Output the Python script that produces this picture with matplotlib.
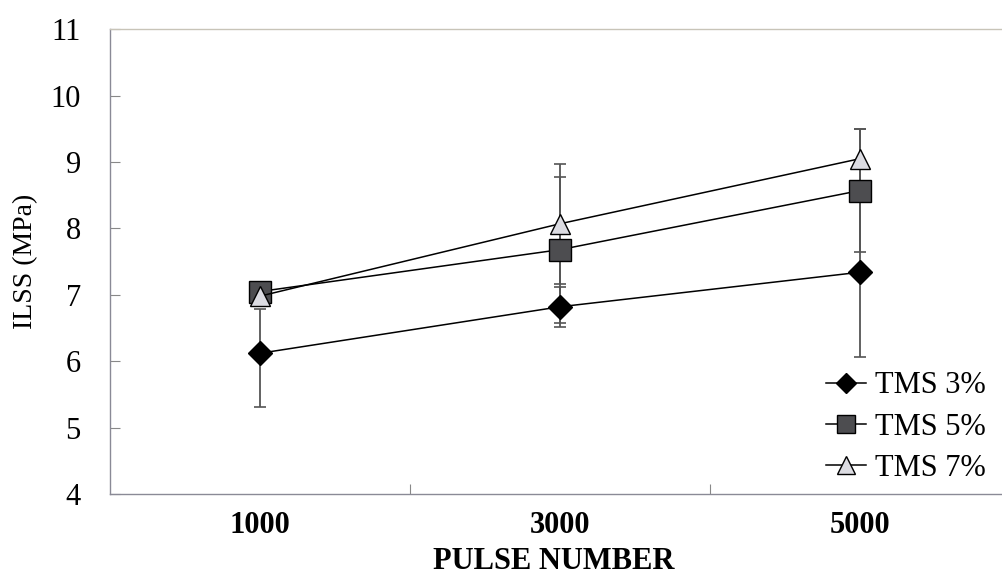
import matplotlib.pyplot as plt

pulses = ['1000', '3000', '5000']
tms3 = [6.12, 6.82, 7.34]
tms3_err_lo = [0.81, 0.30, 1.28]
tms3_err_hi = [0.66, 0.30, 1.28]
tms5 = [7.05, 7.68, 8.57]
tms5_err = [0.15, 1.10, 0.93]
tms7 = [6.98, 8.07, 9.05]
tms7_err = [0.15, 0.90, 0.45]
labels = ['TMS 3%', 'TMS 5%', 'TMS 7%']

plt.rcParams['font.family'] = ['Liberation Serif', 'DejaVu Serif']

fig = plt.figure(figsize=(10.02, 5.81), dpi=100)
ax = fig.add_axes([0.1098, 0.1497, 0.898, 0.800])

x = list(range(len(pulses)))

# error bars first so the markers sit on top
for vals, errs in [(tms3, [tms3_err_lo, tms3_err_hi]), (tms5, tms5_err), (tms7, tms7_err)]:
    ax.errorbar(x, vals, yerr=errs, fmt='none', ecolor='#555555',
                elinewidth=1.3, capsize=4, capthick=1.2, zorder=1)

ax.plot(x, tms3, color='k', lw=1.1, marker='D', ms=12,
        mfc='black', mec='black', label=labels[0], zorder=3)
ax.plot(x, tms5, color='k', lw=1.1, marker='s', ms=16,
        mfc='#4d4d50', mec='black', mew=1.0, label=labels[1], zorder=3)
ax.plot(x, tms7, color='k', lw=1.1, marker='^', ms=15,
        mfc='#dcdce2', mec='black', mew=1.0, label=labels[2], zorder=4)

ax.set_xlim(-0.5, 2.5)
ax.set_ylim(4, 11)
ax.set_yticks(range(4, 12))
ax.set_xticks(x)
ax.set_xticklabels(pulses, fontweight='bold')
ax.set_xticks([0.5, 1.5], minor=True)

ax.tick_params(axis='y', direction='in', length=7, width=0.8,
               color='#888888', labelsize=22, pad=21)
ax.tick_params(axis='x', which='major', length=0, labelsize=22, pad=12)
ax.tick_params(axis='x', which='minor', direction='in', length=7,
               width=0.8, color='#888888')

for side in ['left', 'bottom']:
    ax.spines[side].set_color('#8a8a96')
    ax.spines[side].set_linewidth(1.0)
ax.spines['top'].set_color('#c8c4b8')
ax.spines['top'].set_linewidth(1.0)
ax.spines['right'].set_visible(False)

ax.set_ylabel('ILSS (MPa)', fontsize=20, labelpad=9)
fig.text(0.553, 0.008, 'PULSE NUMBER', fontsize=22, fontweight='bold',
         ha='center', va='bottom')

ax.legend(loc='lower right', bbox_to_anchor=(1.004, -0.035), frameon=False,
          fontsize=22, handlelength=1.3, labelspacing=0.4,
          handletextpad=0.3, markerscale=0.85)

fig.savefig('out.png', dpi=100)
